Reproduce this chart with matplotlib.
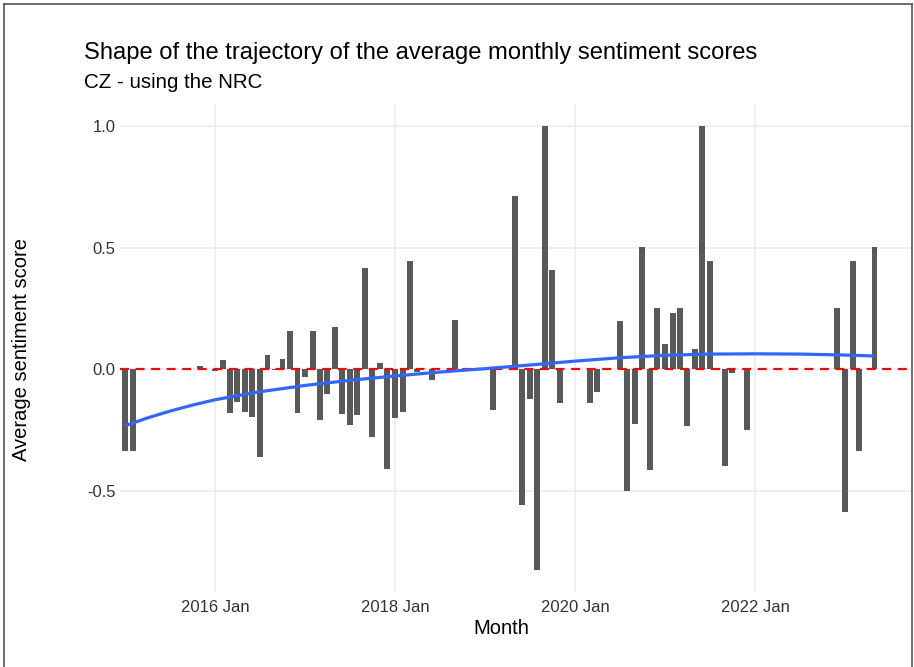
import numpy as np
import pandas as pd
import matplotlib
matplotlib.use('Agg')
import matplotlib.pyplot as plt
import matplotlib.dates as mdates
from matplotlib.lines import Line2D

plt.rcParams['font.family'] = ['Liberation Sans', 'DejaVu Sans']

# monthly average sentiment
months = ['2015-01', '2015-02', '2015-11',
          '2016-01', '2016-02', '2016-03', '2016-04', '2016-05', '2016-06',
          '2016-07', '2016-08', '2016-09', '2016-10', '2016-11', '2016-12',
          '2017-01', '2017-02', '2017-03', '2017-04', '2017-05', '2017-06',
          '2017-07', '2017-08', '2017-09', '2017-10', '2017-11', '2017-12',
          '2018-01', '2018-02', '2018-03', '2018-04', '2018-06', '2018-09',
          '2019-02', '2019-05', '2019-06', '2019-07', '2019-08', '2019-09',
          '2019-10', '2019-11', '2020-03', '2020-04', '2020-07', '2020-08',
          '2020-09', '2020-10', '2020-11', '2020-12', '2021-01', '2021-02',
          '2021-03', '2021-04', '2021-05', '2021-06', '2021-07', '2021-09',
          '2021-10', '2021-12', '2022-12', '2023-01', '2023-02', '2023-03',
          '2023-05']
scores = [-0.335, -0.335, 0.013,
          -0.008, 0.037, -0.180, -0.137, -0.175, -0.196,
          -0.360, 0.060, -0.005, 0.040, 0.157, -0.182,
          -0.033, 0.159, -0.210, -0.101, 0.172, -0.186,
          -0.231, -0.190, 0.417, -0.279, 0.026, -0.412,
          -0.200, -0.175, 0.446, -0.010, -0.046, 0.201,
          -0.167, 0.713, -0.557, -0.123, -0.826, 1.000,
          0.406, -0.140, -0.140, -0.093, 0.200, -0.500,
          -0.224, 0.504, -0.414, 0.251, 0.105, 0.232,
          0.251, -0.235, 0.084, 1.000, 0.447, -0.400,
          -0.016, -0.250, 0.251, -0.586, 0.443, -0.336,
          0.502]

# smoothed trend line
smooth_months = ['2015-01', '2015-04', '2015-07', '2015-10', '2016-01',
                 '2016-07', '2017-01', '2017-07', '2018-01', '2018-07',
                 '2019-01', '2019-07', '2020-01', '2020-07', '2021-01',
                 '2021-07', '2022-01', '2022-07', '2023-01', '2023-05']
smooth_scores = [-0.233, -0.201, -0.173, -0.148, -0.126,
                 -0.093, -0.067, -0.046, -0.028, -0.012,
                 0.002, 0.017, 0.033, 0.047, 0.057,
                 0.062, 0.063, 0.062, 0.058, 0.054]

xtick_months = ['2016-01', '2018-01', '2020-01', '2022-01']
xtick_labels = ['2016 Jan', '2018 Jan', '2020 Jan', '2022 Jan']
ytick_vals = [-0.5, 0.0, 0.5, 1.0]
ytick_labels = ['-0.5', '0.0', '0.5', '1.0']

dates = pd.to_datetime(months)
sdates = pd.to_datetime(smooth_months)
xticks = pd.to_datetime(xtick_months)

W, H = 914, 667
fig = plt.figure(figsize=(W / 100, H / 100), dpi=100)
fig.patch.set_facecolor('white')

# panel in pixels
left_px, right_px, top_px, bot_px = 120, 911, 104, 592
ax = fig.add_axes([left_px / W, 1 - bot_px / H, (right_px - left_px) / W, (bot_px - top_px) / H])

ax.bar(dates, scores, width=24, color='#595959', zorder=2)
ax.axhline(0, color='#FF0000', lw=1.6, ls=(0, (4, 3)), zorder=3)
ax.plot(sdates, smooth_scores, color='#3366FF', lw=2.3, zorder=4, solid_capstyle='butt')

# x range: 2016 Jan sits at 215px, 2022 Jan at 755px
d16 = mdates.date2num(pd.Timestamp('2016-01-01'))
d22 = mdates.date2num(pd.Timestamp('2022-01-01'))
ppd = (755 - 215) / (d22 - d16)
ax.set_xlim(d16 + (left_px - 215) / ppd, d16 + (right_px - 215) / ppd)
ax.set_ylim(-0.917, 1.091)

ax.set_xticks(xticks)
ax.set_xticklabels(xtick_labels)
ax.set_yticks(ytick_vals)
ax.set_yticklabels(ytick_labels)
ax.tick_params(length=0, labelsize=12, colors='#333333')
ax.tick_params(axis='x', pad=6)
ax.tick_params(axis='y', pad=3)

ax.grid(color='#EBEBEB', lw=1.1)
ax.set_axisbelow(True)
for s in ax.spines.values():
    s.set_visible(False)

fig.text(84 / W, 1 - 53 / H, 'Shape of the trajectory of the average monthly sentiment scores',
         fontsize=17.1, ha='left', va='center', color='black')
fig.text(84 / W, 1 - 83 / H, 'CZ - using the NRC', fontsize=14.8, ha='left', va='center', color='black')
fig.text(501 / W, 1 - 628 / H, 'Month', fontsize=14.5, ha='center', va='center')
fig.text(22 / W, 1 - 350 / H, 'Average sentiment score', fontsize=14.5, rotation=90,
         ha='center', va='center')

# frame around the picture
frame = dict(color='#555555', lw=1.2, transform=fig.transFigure)
fig.lines.append(Line2D([4 / W, 912 / W], [1 - 4 / H, 1 - 4 / H], **frame))
fig.lines.append(Line2D([4 / W, 4 / W], [0, 1 - 4 / H], **frame))
fig.lines.append(Line2D([912 / W, 912 / W], [0, 1 - 4 / H], **frame))

fig.savefig('out.png', dpi=100)
